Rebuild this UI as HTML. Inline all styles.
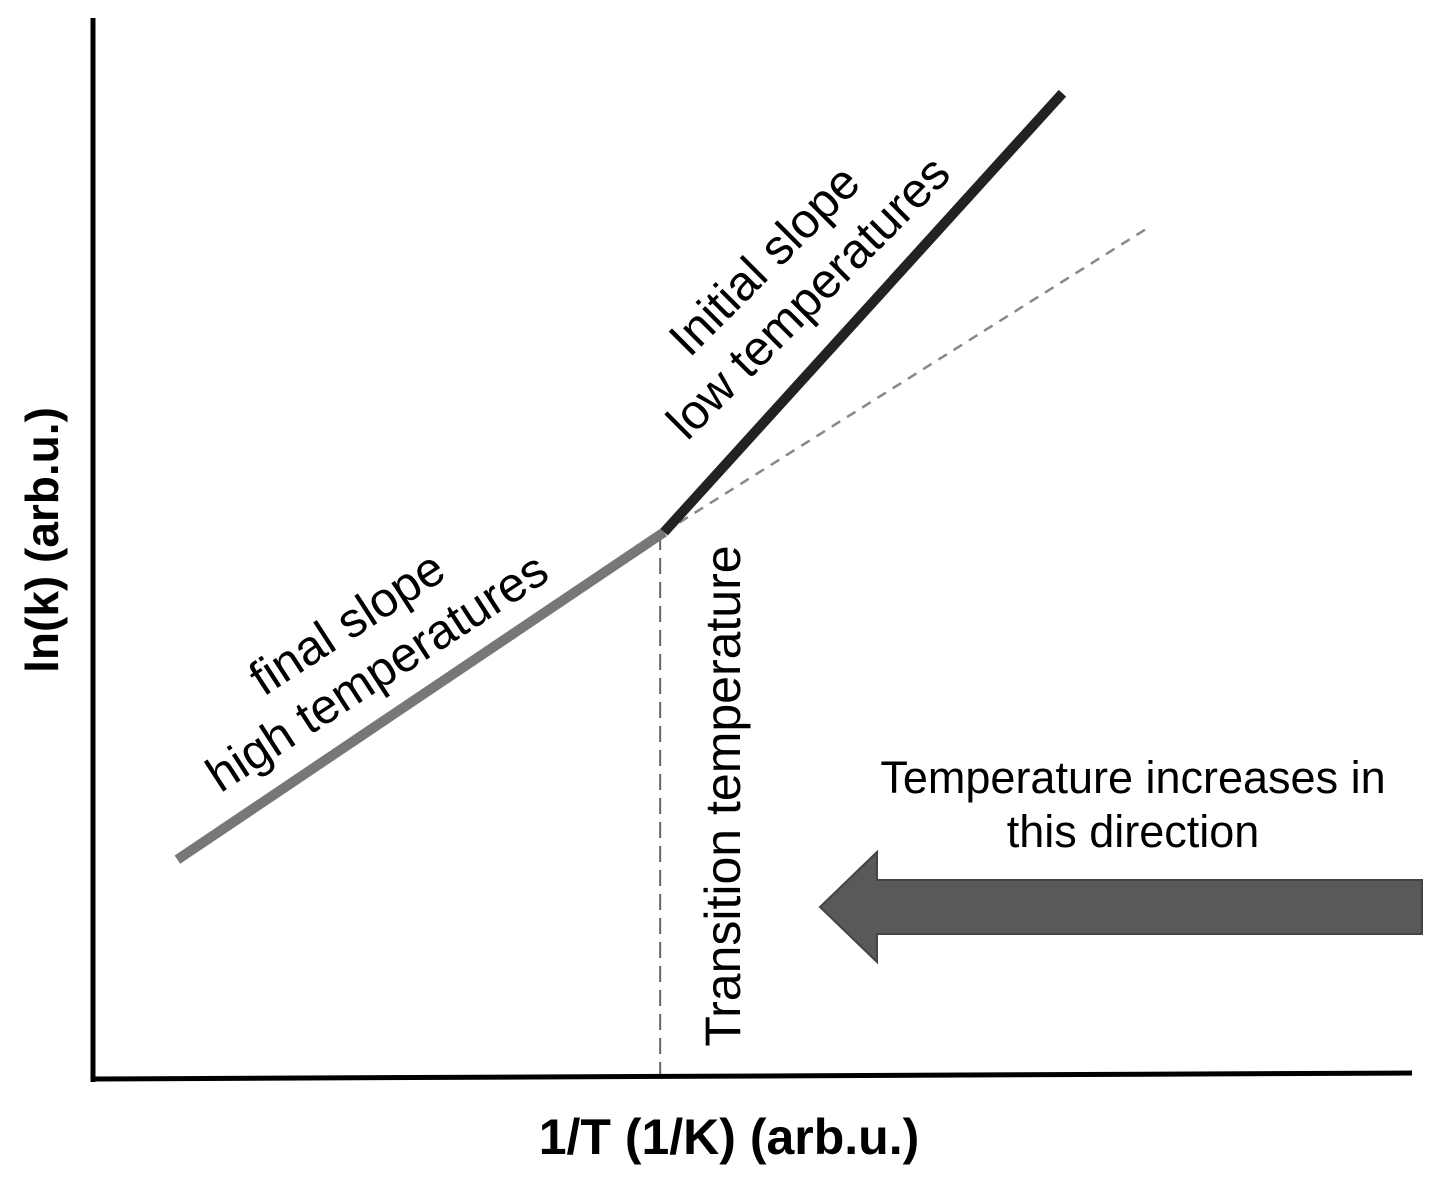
<!DOCTYPE html>
<html><head><meta charset="utf-8"><style>
html,body{margin:0;padding:0;background:#fff;}
svg{display:block;font-family:"Liberation Sans",Arial,sans-serif;}
</style></head><body>
<svg id="chart" width="1441" height="1185" viewBox="0 0 1441 1185">
<g id="marks"></g>
<line x1="93" y1="18" x2="93" y2="1082" stroke="#000" stroke-width="5"/>
<line x1="91" y1="1079" x2="1412" y2="1073" stroke="#000" stroke-width="5"/>
<text x="729" y="1154" font-size="50" font-weight="bold" text-anchor="middle">1/T (1/K) (arb.u.)</text>
<text transform="translate(58,540) rotate(-90)" font-size="46" font-weight="bold" text-anchor="middle">ln(k) (arb.u.)</text>
<g font-size="49" text-anchor="middle">
<text transform="translate(356,637) rotate(-33)">final slope</text>
<text transform="translate(386,686) rotate(-33)">high temperatures</text>
</g>
<g font-size="49" text-anchor="middle">
<text transform="translate(776,272) rotate(-45)">Initial slope</text>
<text transform="translate(820,309) rotate(-45)">low temperatures</text>
</g>
<text transform="translate(740,796) rotate(-90)" font-size="50" text-anchor="middle">Transition temperature</text>
<g font-size="45" text-anchor="middle">
<text x="1133" y="793">Temperature increases in</text>
<text x="1133" y="847">this direction</text>
</g>
<polygon points="1422,880 877,880 877,852 820,907 877,962 877,934 1422,934" fill="#595959" stroke="#444" stroke-width="2"/>
</svg>
<script>
// data in arbitrary units (x: 1/T, y: ln k)
const highT = [[6.4, 20.6], [43.3, 51.5]];
const lowT = [[43.3, 51.5], [73.5, 92.9]];
const extrap = [[43.3, 51.5], [80.1, 80.3]];
const transitionX = [43.0];
const xScale = v => 93 + v * 13.19;
const yScale = v => 1078 - v * 10.6;
const ns = 'http://www.w3.org/2000/svg';
const g = document.getElementById('marks');
function line(pts, stroke, w, dash) {
  const l = document.createElementNS(ns, 'line');
  l.setAttribute('x1', xScale(pts[0][0])); l.setAttribute('y1', yScale(pts[0][1]));
  l.setAttribute('x2', xScale(pts[1][0])); l.setAttribute('y2', yScale(pts[1][1]));
  l.setAttribute('stroke', stroke); l.setAttribute('stroke-width', w);
  if (dash) l.setAttribute('stroke-dasharray', dash);
  g.appendChild(l);
  return l;
}
const e = line(extrap, '#888', 2.5, '10,8');


const v = line([[transitionX[0], 0], [transitionX[0], highT[1][1]]], '#666', 2, '16,8');


const h = line(highT, '#777', 10);


const lo = line(lowT, '#222', 10);


</script>
</body></html>
